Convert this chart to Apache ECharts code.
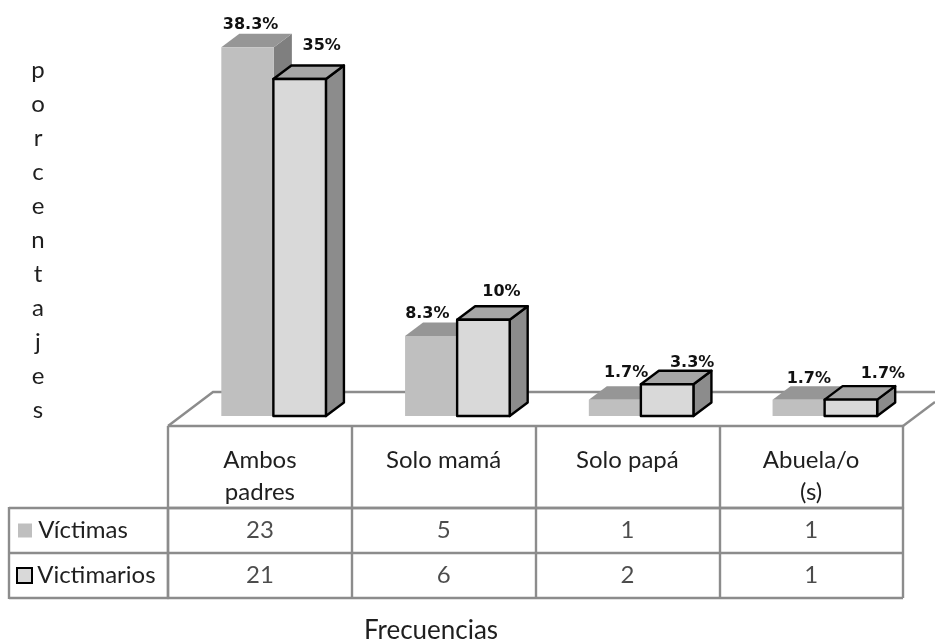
<!DOCTYPE html>
<html>
<head>
<meta charset="utf-8">
<style>html,body{margin:0;padding:0;background:#fff}#chart{width:935px;height:641px}</style>
<script src="https://cdn.jsdelivr.net/npm/echarts@6/dist/echarts.min.js"></script>
</head>
<body>
<div id="chart"></div>
<script>
// Share of each household type, with the absolute frequencies listed underneath.
const categories = ['Ambos\npadres', 'Solo mamá', 'Solo papá', 'Abuela/o\n(s)'];
const rowNames = ['Víctimas', 'Victimarios'];
const victimasPct = [38.3, 8.3, 1.7, 1.7];
const victimariosPct = [35, 10, 3.3, 1.7];
const victimasFreq = [23, 5, 1, 1];
const victimariosFreq = [21, 6, 2, 1];
const pctText = [['38.3%', '8.3%', '1.7%', '1.7%'], ['35%', '10%', '3.3%', '1.7%']];
// Pixel nudges for the value labels, relative to the top centre of each bar.
const labelNudge = [
  [[3, -22], [-4, -22], [11, -27], [10, -21]],
  [[22, -33], [18, -28], [25, -21], [32, -26]]
];

const FONT = 'Lato, "Open Sans", sans-serif';
const LINE = '#8c8c8c';
const TEXT = '#1f1f1f';
const DEPTH_X = 18, DEPTH_Y = 13.5;
const BAR_RATIO = 0.286;

function prism(side, colors, border) {
  return function (params, api) {
    const i = api.value(0);
    const center = api.coord([i, 0])[0];
    const base = api.coord([i, 0])[1];
    const top = api.coord([i, api.value(1)])[1];
    const w = api.size([1, 0])[0] * BAR_RATIO;
    const x0 = side === 0 ? center - w : center - 0.5;
    const x1 = x0 + w;
    const edge = border
      ? { stroke: '#000', lineWidth: 2.4, lineJoin: 'round' }
      : { lineWidth: 0 };
    const nudge = labelNudge[side][i];
    return {
      type: 'group',
      children: [
        { type: 'polygon', shape: { points: [[x1, top], [x1 + DEPTH_X, top - DEPTH_Y], [x1 + DEPTH_X, base - DEPTH_Y], [x1, base]] },
          style: Object.assign({ fill: colors.side }, edge) },
        { type: 'polygon', shape: { points: [[x0, top], [x0 + DEPTH_X, top - DEPTH_Y], [x1 + DEPTH_X, top - DEPTH_Y], [x1, top]] },
          style: Object.assign({ fill: colors.top }, edge) },
        { type: 'rect', shape: { x: x0, y: top, width: w, height: base - top },
          style: Object.assign({ fill: colors.front }, edge) },
        { type: 'text', z2: 10, style: {
            text: pctText[side][i], x: (x0 + x1) / 2 + nudge[0], y: top + nudge[1],
            align: 'center', verticalAlign: 'middle',
            font: 'bold 16px "DejaVu Sans", sans-serif', fill: '#111'
        } }
      ]
    };
  };
}

function cells(values, row) {
  return {
    type: 'scatter', xAxisIndex: 1, yAxisIndex: 1, symbolSize: 0, silent: true,
    data: values.map((v, i) => [i, row, v]),
    label: { show: true, position: 'inside', formatter: p => String(p.value[2]),
      fontFamily: FONT, fontSize: 24, color: TEXT }
  };
}

const chart = echarts.init(document.getElementById('chart'), null, { renderer: 'canvas' });
chart.setOption({
  animation: false,
  backgroundColor: '#fff',
  title: {
    text: 'Frecuencias', left: 426, top: 613, textAlign: 'center',
    textStyle: { fontFamily: FONT, fontSize: 26, fontWeight: 'normal', color: TEXT }
  },
  grid: [
    { left: 182, width: 735, top: 30.8, height: 385.2 },
    { left: 168, width: 735, top: 508, height: 90 }
  ],
  xAxis: [
    { type: 'category', gridIndex: 0, data: categories, axisLine: { show: false }, axisTick: { show: false }, axisLabel: { show: false } },
    {
      type: 'category', gridIndex: 1, position: 'top', data: categories,
      axisLine: { lineStyle: { color: LINE, width: 2.4 } },
      axisTick: { show: true, length: 82, lineStyle: { color: LINE, width: 2.4 } },
      splitLine: { show: true, lineStyle: { color: LINE, width: 2.4 } },
      axisLabel: { interval: 0, margin: 64, verticalAlign: 'top', fontFamily: FONT, fontSize: 24, lineHeight: 32, color: TEXT }
    }
  ],
  yAxis: [
    {
      type: 'value', gridIndex: 0, min: 0, max: 40,
      axisLine: { show: false }, axisTick: { show: false }, axisLabel: { show: false }, splitLine: { show: false },
      // Stacked letters; the leading break lowers the word beside the plot.
      name: '\n' + 'porcentajes'.split('').join('\n'),
      nameLocation: 'middle', nameRotate: 0, nameGap: 144,
      nameTextStyle: { fontFamily: FONT, fontSize: 24, lineHeight: 34, color: TEXT, align: 'center' }
    },
    {
      type: 'category', gridIndex: 1, inverse: true, data: rowNames,
      axisLine: { lineStyle: { color: LINE, width: 2.4 } },
      axisTick: { show: true, length: 159, lineStyle: { color: LINE, width: 2.4 } },
      splitLine: { show: true, lineStyle: { color: LINE, width: 2.4 } },
      axisLabel: {
        margin: 150, align: 'left', fontFamily: FONT, fontSize: 24, color: TEXT,
        formatter: (v, i) => (i === 0 ? '{a|}' : '{b|}') + ' {t|' + v + '}',
        rich: {
          a: { width: 14, height: 14, backgroundColor: '#bfbfbf' },
          b: { width: 13, height: 13, backgroundColor: '#d9d9d9', borderColor: '#000', borderWidth: 2 },
          t: { fontFamily: FONT, fontSize: 24, color: TEXT }
        }
      }
    }
  ],
  graphic: [
    // Chart floor and the left edge of the data table.
    { type: 'polyline', z: 0, silent: true,
      shape: { points: [[168, 426], [213, 392], [935, 392]] },
      style: { fill: null, stroke: LINE, lineWidth: 2.4 } },
    { type: 'line', z: 0, silent: true, shape: { x1: 168, y1: 426, x2: 903, y2: 426 }, style: { stroke: LINE, lineWidth: 2.4 } },
    { type: 'line', z: 0, silent: true, shape: { x1: 903, y1: 426, x2: 935, y2: 402 }, style: { stroke: LINE, lineWidth: 2.4 } },
    { type: 'line', z: 0, silent: true, shape: { x1: 9, y1: 507, x2: 9, y2: 599 }, style: { stroke: LINE, lineWidth: 2.4 } }
  ],
  series: [
    { type: 'custom', name: rowNames[0], z: 3, xAxisIndex: 0, yAxisIndex: 0, silent: true,
      data: victimasPct.map((v, i) => [i, v]),
      renderItem: prism(0, { front: '#bfbfbf', top: '#969696', side: '#7f7f7f' }, false) },
    { type: 'custom', name: rowNames[1], z: 4, xAxisIndex: 0, yAxisIndex: 0, silent: true,
      data: victimariosPct.map((v, i) => [i, v]),
      renderItem: prism(1, { front: '#d9d9d9', top: '#a6a6a6', side: '#8c8c8c' }, true) },
    cells(victimasFreq, 0),
    cells(victimariosFreq, 1)
  ]
});
</script>
</body>
</html>
